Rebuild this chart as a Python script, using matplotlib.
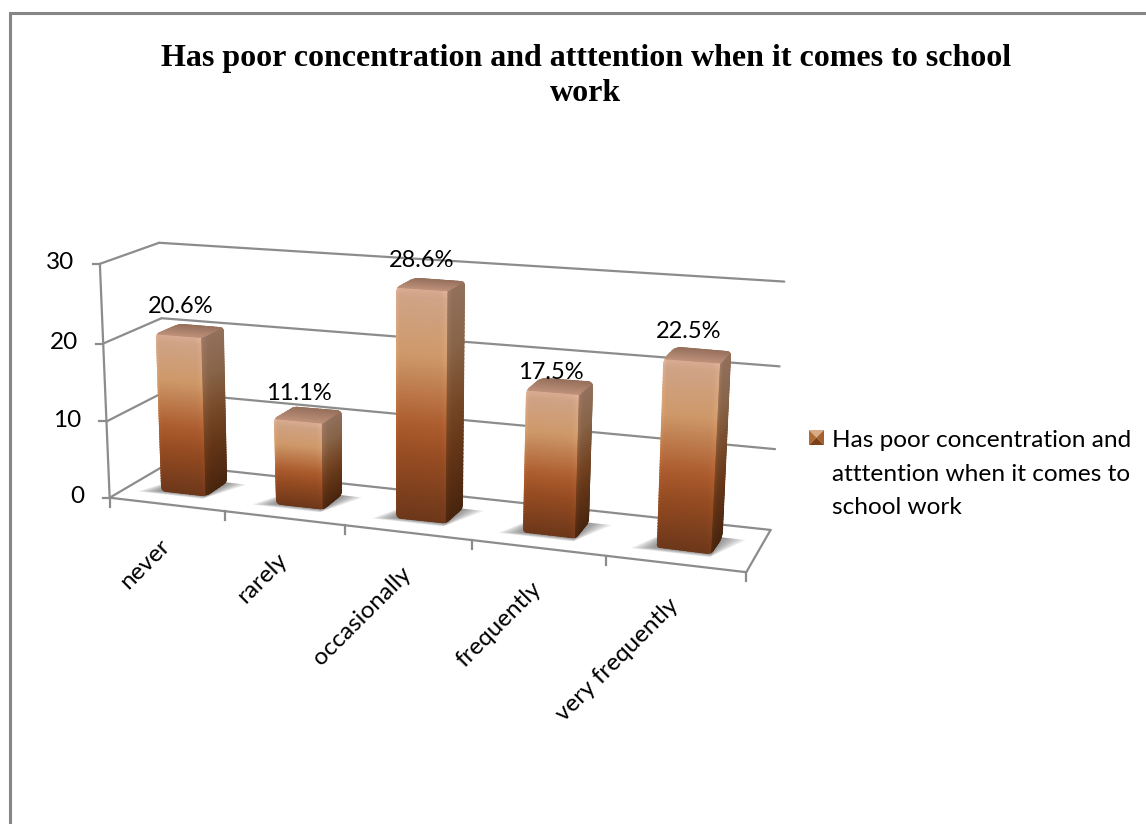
import numpy as np
import matplotlib
matplotlib.use("Agg")
import matplotlib.pyplot as plt
from matplotlib.path import Path
from matplotlib.patches import Polygon

categories = ["never", "rarely", "occasionally", "frequently", "very frequently"]
values = [20.6, 11.1, 28.6, 17.5, 22.5]
value_labels = ["20.6%", "11.1%", "28.6%", "17.5%", "22.5%"]
y_ticks = [0, 10, 20, 30]
title_lines = "Has poor concentration and atttention when it comes to school\nwork"
legend_text = "Has poor concentration and\natttention when it comes to\nschool work"

GRID = "#8c8c8c"
label_lift = [24, 21, 24, 13, 23]

# camera calibration: (category pos, value, depth) -> picture position
wall_cal = [((0, 0, 0), (111, 497)), ((5, 0, 0), (747, 573)), ((0, 30, 0), (97, 262)),
            ((0, 0, 1), (163, 467)), ((5, 0, 1), (771, 529)), ((0, 30, 1), (162, 242)),
            ((5, 30, 1), (784, 280)), ((1, 0, 0), (224, 511)), ((2, 0, 0), (345, 526)),
            ((4, 0, 0), (604, 556))]
bar_cal = [((4.3, 0, .3), (657, 547)), ((4.3, 22.5, .3), (664, 360)),
           ((4.7, 0, .3), (712, 554)), ((4.7, 22.5, .3), (720, 365)),
           ((.3, 0, .3), (164, 489)), ((.7, 0, .3), (208, 495)), ((.3, 20.6, .3), (158, 335)),
           ((.7, 20.6, .3), (203, 340)), ((.7, 0, .7), (228, 478)), ((.7, 20.6, .7), (223, 330)),
           ((2.3, 0, .3), (398, 517)), ((2.7, 0, .3), (448, 523)), ((2.3, 28.6, .3), (397, 290)),
           ((2.7, 28.6, .3), (448, 292)), ((2.7, 0, .7), (462, 508)), ((2.7, 28.6, .7), (462, 283))]
rows = []
for (u, v, d), (x, y) in wall_cal * 3 + bar_cal:
    X = [u / 5, v / 30, d, 1]
    x, y = x / 1000, y / 1000
    rows.append(X + [0, 0, 0, 0] + [-x * c for c in X])
    rows.append([0, 0, 0, 0] + X + [-y * c for c in X])
P = np.linalg.svd(np.array(rows))[2][-1].reshape(3, 4)


def project(u, v, d):
    u, v, d = np.broadcast_arrays(np.asarray(u, float), np.asarray(v, float), np.asarray(d, float))
    h = np.stack([u / 5, v / 30, d, np.ones_like(u)], axis=-1) @ P.T
    return h[..., 0] / h[..., 2] * 1000, h[..., 1] / h[..., 2] * 1000


def line(ax, a, b, **kw):
    x0, y0 = project(*a)
    x1, y1 = project(*b)
    ax.plot([x0, x1], [y0, y1], color=GRID, lw=1.6, solid_capstyle="round", zorder=2, **kw)


def ramp(t, stops):
    ts = [s[0] for s in stops]
    return np.stack([np.interp(t, ts, [s[1][c] / 255 for s in stops]) for c in range(3)], axis=-1)


FRONT = [(0, (108, 55, 26)), (.28, (150, 76, 34)), (.42, (172, 92, 46)), (.72, (206, 153, 106)), (1, (208, 165, 140))]
SIDE = [(0, (72, 36, 14)), (.3, (100, 54, 24)), (.5, (118, 72, 40)), (.75, (136, 100, 72)), (1, (146, 112, 92))]
TOP = [(0, (190, 145, 122)), (1, (150, 112, 92))]


def rounded(pts, r=5):
    pts = np.array(pts)
    verts, codes = [], []
    n = len(pts)
    for i in range(n):
        p, a, b = pts[i], pts[i - 1], pts[(i + 1) % n]
        e0 = p + (a - p) / np.linalg.norm(a - p) * r
        e1 = p + (b - p) / np.linalg.norm(b - p) * r
        verts += [e0, p, e1]
        codes += [Path.MOVETO if i == 0 else Path.LINETO, Path.CURVE3, Path.CURVE3]
    verts.append(verts[0])
    codes.append(Path.CLOSEPOLY)
    return Path(verts, codes)


def bar(ax, i, val):
    u0, u1, d0, d1 = i + .3, i + .7, .3, .7
    px = lambda u, v, d: tuple(float(c) for c in project(u, v, d))
    clip = rounded([px(u0, 0, d0), px(u0, val, d0), px(u0, val, d1), px(u1, val, d1), px(u1, 0, d1), px(u1, 0, d0)])
    h = val * 7.7
    # front
    s = np.linspace(0, 1, 15)
    t = np.linspace(0, 1, 61)
    S, T = np.meshgrid(s, t)
    X, Y = project(u0 + (u1 - u0) * S, val * T, d0)
    C = ramp(t, FRONT)[:, None, :] * np.ones((1, len(s), 1))
    edge = np.clip(1 - s / .08, 0, 1)[None, :, None] * .06 + 1
    right = np.clip((s - .88) / .12, 0, 1)[None, :, None] * .06 + 1
    top = np.clip((t - (1 - 7 / h)) * h / 7, 0, 1)[:, None, None] * .05 + 1
    ms = [ax.pcolormesh(X, Y, np.clip(C * edge * right * top, 0, 1), shading="gouraud", zorder=4)]
    # side
    s2 = np.linspace(0, 1, 9)
    S, T = np.meshgrid(s2, t)
    X, Y = project(u1, val * T, d0 + (d1 - d0) * S)
    C = ramp(t, SIDE)[:, None, :] * np.ones((1, len(s2), 1))
    C = C * (1.1 - .1 * np.clip(s2 / .3, 0, 1))[None, :, None]
    ms.append(ax.pcolormesh(X, Y, np.clip(C, 0, 1), shading="gouraud", zorder=4))
    # top
    t3 = np.linspace(0, 1, 9)
    S, T = np.meshgrid(s, t3)
    X, Y = project(u0 + (u1 - u0) * S, val, d0 + (d1 - d0) * T)
    C = ramp(t3, TOP)[:, None, :] * np.ones((1, len(s), 1))
    ms.append(ax.pcolormesh(X, Y, C, shading="gouraud", zorder=4))
    for m in ms:
        m.set_clip_path(clip, ax.transData)


def shadow(ax, i):
    u0, u1 = i + .3, i + .7
    for k in range(8):
        g = k / 7
        sp = .17 * (1 - g)
        dn = .07 * (1 - g)
        corners = [project(u0 - sp, 0, .3 - dn), project(u1, 0, .3 - dn),
                   project(u1 + sp, 0, .7), project(u0, 0, .7)]
        ax.add_patch(Polygon([(float(a), float(b)) for a, b in corners], closed=True,
                             fc="#484848", ec="none", alpha=.1, zorder=3))


plt.rcParams["font.family"] = ["Lato", "DejaVu Sans"]
fig = plt.figure(figsize=(11.46, 8.24), dpi=100)
ax = fig.add_axes([0, 0, 1, 1])
ax.set_xlim(0, 1146)
ax.set_ylim(824, 0)
ax.axis("off")

# chart frame
ax.plot([10, 10, 1146], [824, 13, 13], color="#868686", lw=2.2, zorder=1, solid_joinstyle="miter")

# walls and floor
for v in y_ticks:
    line(ax, (0, v, 0), (0, v, 1))
    line(ax, (0, v, 1), (5, v, 1))
    x, y = project(0, v, 0)
    ax.plot([x - 7, x], [y, y], color=GRID, lw=1.6, zorder=2)
    ax.text(x - 25.5, y - 1, str(v), ha="right", va="center", fontsize=17.5, color="black", zorder=6)
line(ax, (0, 0, 0), (0, 30, 0))
line(ax, (0, 0, 0), (5, 0, 0))
line(ax, (5, 0, 0), (5, 0, 1))
for u in range(6):
    x, y = project(u, 0, 0)
    ax.plot([x, x], [y, y + 9], color=GRID, lw=1.6, zorder=2)

for i, val in enumerate(values):
    shadow(ax, i)
for i, val in enumerate(values):
    bar(ax, i, val)
    x, y = project(i + .5, val, .5)
    ax.text(x - 9, y - label_lift[i], value_labels[i], ha="center", va="center", fontsize=17, color="black", zorder=6)
    xt, yt = project(i + .5, 0, 0)
    ax.text(xt, yt + 38, categories[i], rotation=45, rotation_mode="anchor", ha="right", va="center",
            fontsize=17.5, color="black", zorder=6)

ax.text(586, 76, title_lines, ha="center", va="center", fontsize=23, fontweight="bold",
        family="Liberation Serif", color="black", linespacing=1.25, zorder=6)

# legend
lx, ly, ls = 809, 430, 15
cx, cy = lx + ls / 2, ly + ls / 2
tri = [([(lx, ly), (lx + ls, ly), (cx, cy)], "#d9ab85"), ([(lx, ly), (lx, ly + ls), (cx, cy)], "#b06a34"),
       ([(lx + ls, ly), (lx + ls, ly + ls), (cx, cy)], "#a45f2d"), ([(lx, ly + ls), (lx + ls, ly + ls), (cx, cy)], "#7d4018")]
for pts, col in tri:
    ax.add_patch(Polygon(pts, closed=True, fc=col, ec="none", zorder=5))
ax.text(832, 474, legend_text, ha="left", va="center", fontsize=17.6, color="black", linespacing=1.72, zorder=6)

fig.savefig("out.png", dpi=100, facecolor="white")
